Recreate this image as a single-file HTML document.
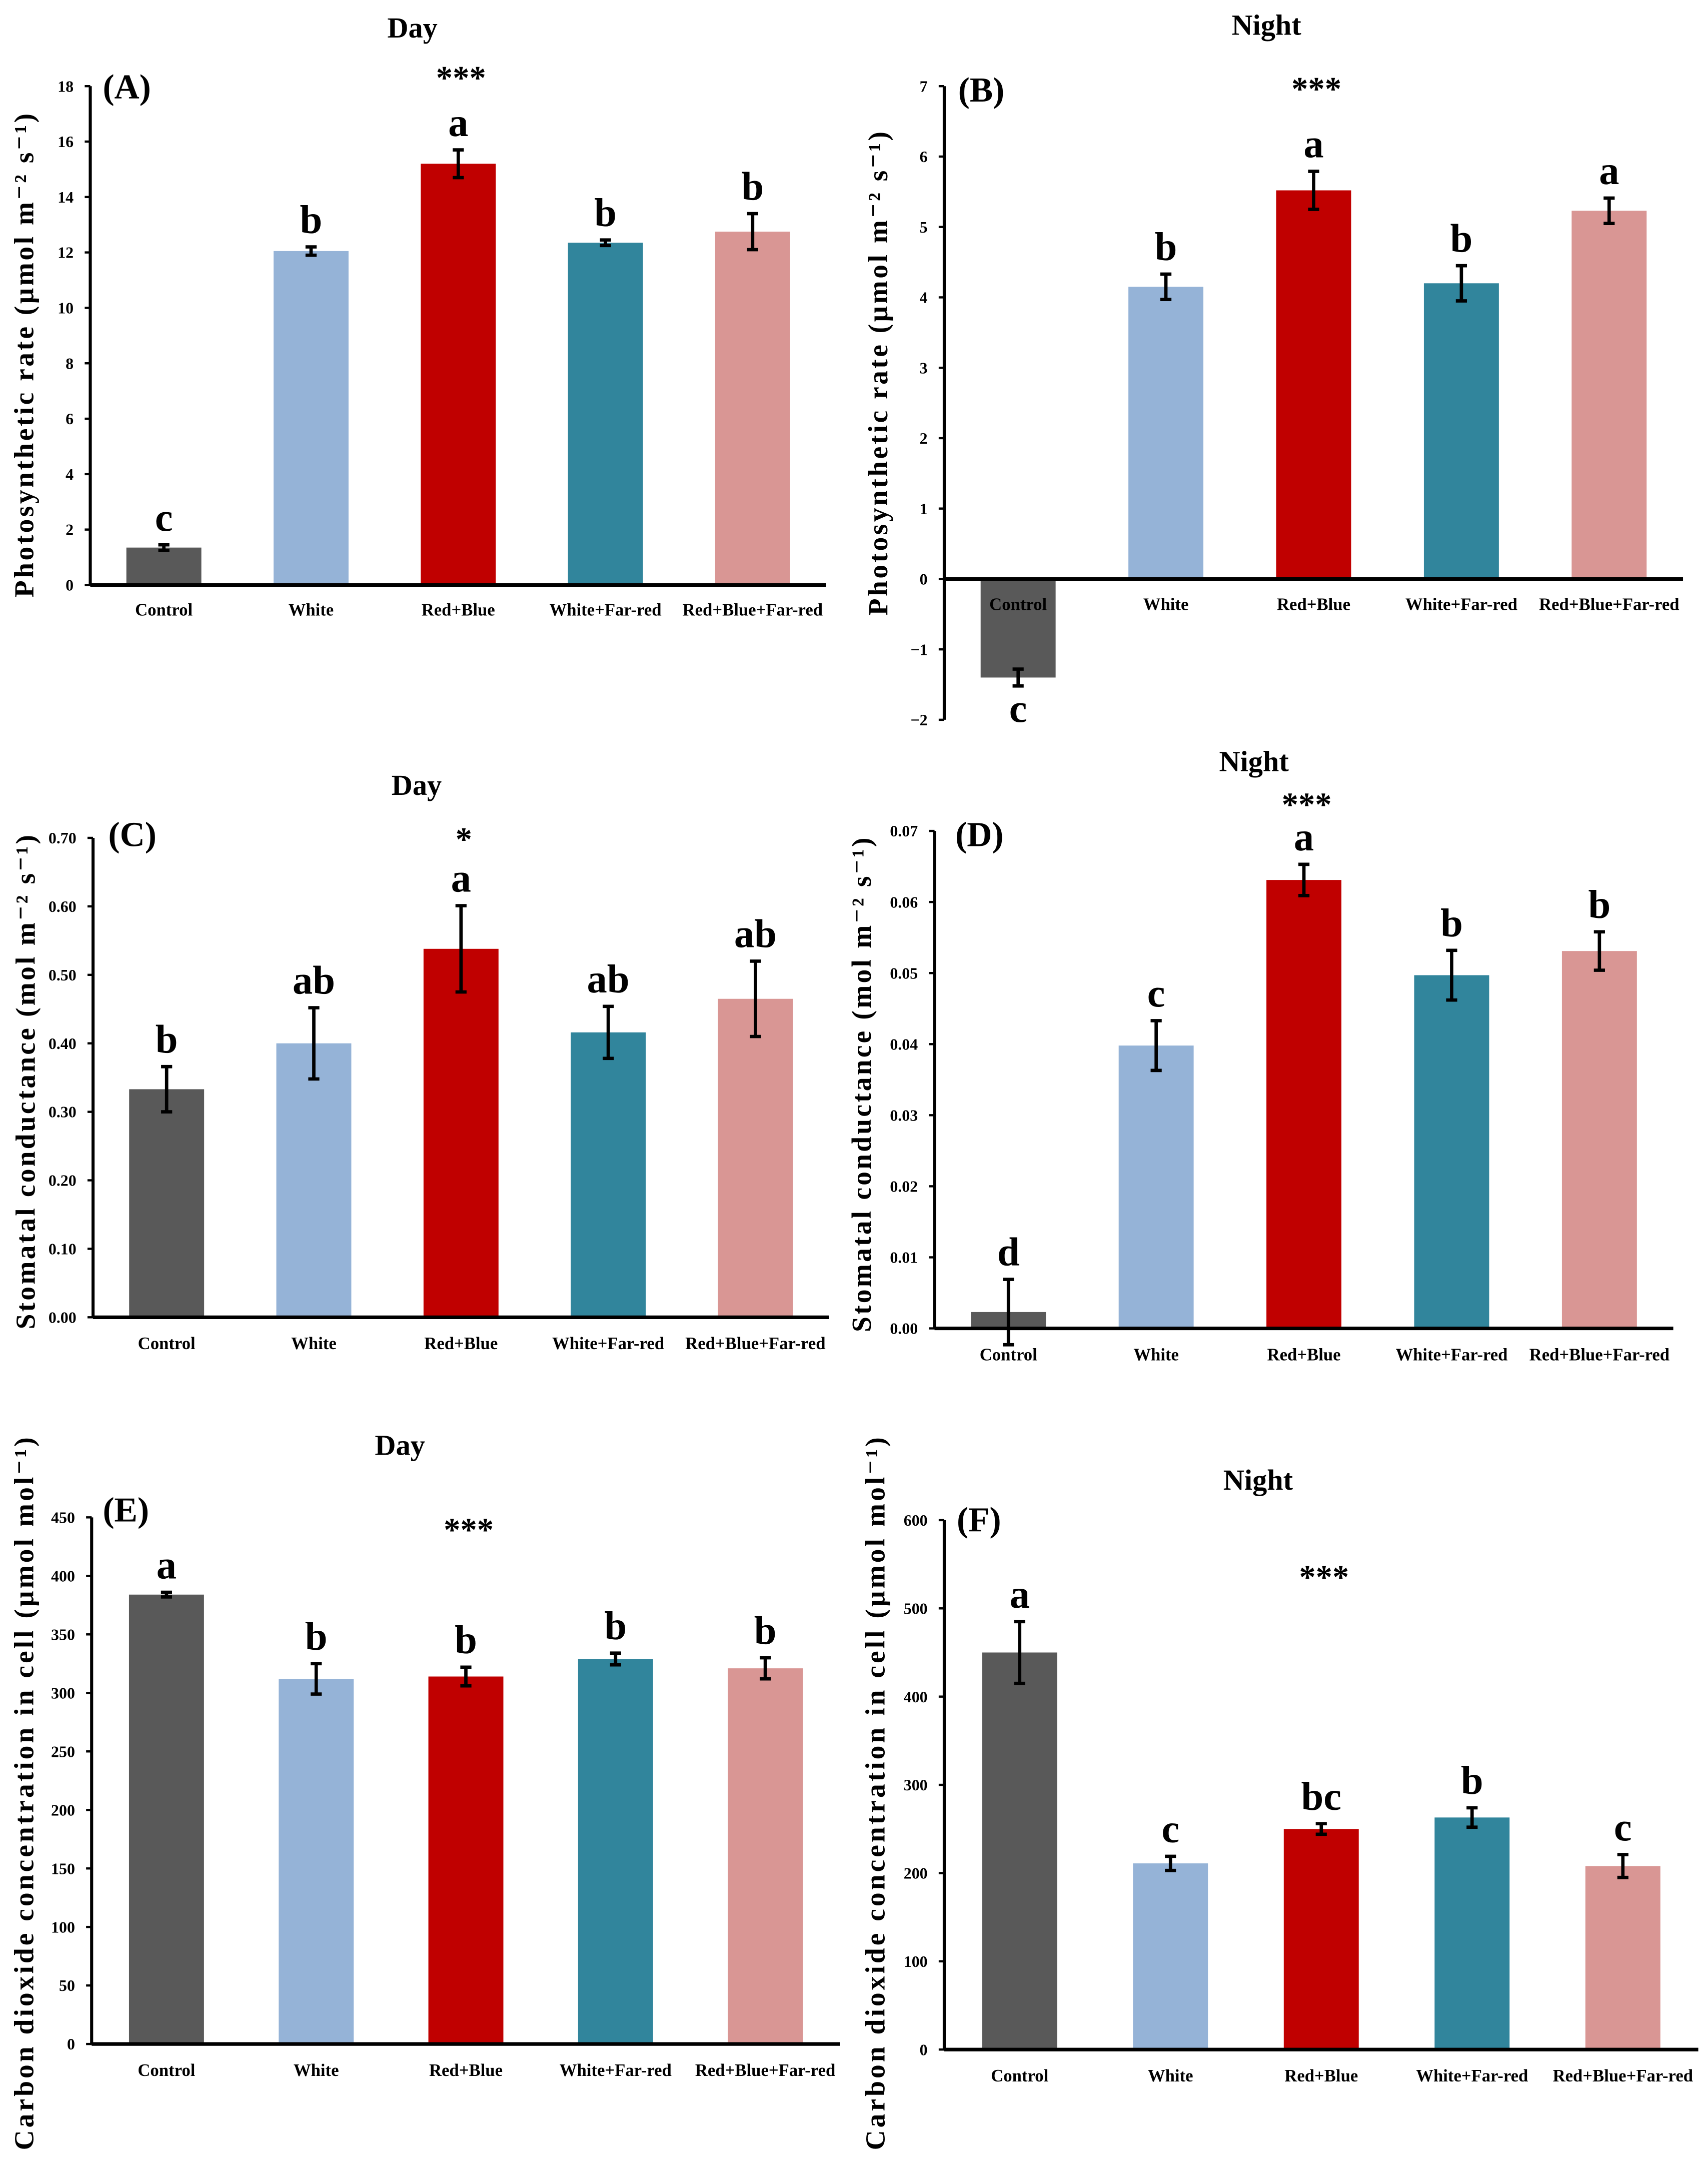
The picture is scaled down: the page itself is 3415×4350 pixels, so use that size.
<!DOCTYPE html>
<html><head><meta charset="utf-8">
<style>
html,body{margin:0;padding:0;background:#fff;}
svg{display:block;}
text{font-family:"Liberation Serif","DejaVu Serif",serif;font-weight:bold;fill:#000;}
</style></head>
<body>
<svg id="fig" width="3415" height="4350" viewBox="0 0 1230 1566" preserveAspectRatio="none" xmlns="http://www.w3.org/2000/svg"></svg>
<script>
const categories = ["Control","White","Red+Blue","White+Far-red","Red+Blue+Far-red"];
const barColors = ["#595959","#95B3D7","#C00000","#31859C","#D99694"];

const valuesA = [1.35,12.05,15.2,12.35,12.75];
const errorsA = [0.1,0.15,0.5,0.1,0.65];
const lettersA = ["c","b","a","b","b"];
const ticksA = [0,2,4,6,8,10,12,14,16,18];

const valuesB = [-1.4,4.15,5.52,4.2,5.23];
const errorsB = [0.12,0.18,0.27,0.25,0.18];
const lettersB = ["c","b","a","b","a"];
const ticksB = [-2,-1,0,1,2,3,4,5,6,7];

const valuesC = [0.333,0.400,0.538,0.416,0.465];
const errorsC = [0.033,0.052,0.063,0.038,0.055];
const lettersC = ["b","ab","a","ab","ab"];
const ticksC = [0,0.1,0.2,0.3,0.4,0.5,0.6,0.7];

const valuesD = [0.0023,0.0398,0.0631,0.0497,0.0531];
const errorsD = [0.0046,0.0035,0.0022,0.0035,0.0027];
const lettersD = ["d","c","a","b","b"];
const ticksD = [0,0.01,0.02,0.03,0.04,0.05,0.06,0.07];

const valuesE = [384,312,314,329,321];
const errorsE = [2,13,8,5,9];
const lettersE = ["a","b","b","b","b"];
const ticksE = [0,50,100,150,200,250,300,350,400,450];

const valuesF = [450,211,250,263,208];
const errorsF = [35,8,6,11,13];
const lettersF = ["a","c","bc","b","c"];
const ticksF = [0,100,200,300,400,500,600];

const NS="http://www.w3.org/2000/svg";
const svg=document.getElementById('fig');
function mk(tag,attrs,parent){const e=document.createElementNS(NS,tag);for(const k in attrs)e.setAttribute(k,attrs[k]);(parent||svg).appendChild(e);return e;}
function txt(s,attrs,parent){const e=mk('text',attrs,parent);e.textContent=s;return e;}

function chart(cfg){
  const g=mk('g',{});
  
  
  const y=v=>cfg.y0+(v-cfg.vmin)/(cfg.vmax-cfg.vmin)*(cfg.y1-cfg.y0);
  const step=(cfg.xr-cfg.ax)/5;
  const x=i=>cfg.ax+step*(i+0.5);
  const zy=y(Math.max(0,cfg.vmin));
  const bw=54;
  const t=txt(cfg.title,{x:cfg.tx,y:cfg.ty,'font-size':21,'text-anchor':'middle'},g);
  
  
  cfg.vals.forEach((v,i)=>{
    const top=Math.min(y(v),zy),h=Math.abs(y(v)-zy);
    const r=mk('rect',{x:x(i)-bw/2,y:top,width:bw,height:h,fill:barColors[i]},g);
    
    
    const e=cfg.errs[i];
    const ya=y(v+e),yb=y(v-e);
    const eg=mk('g',{stroke:'#000','stroke-width':2.4},g);
    
    
    mk('line',{x1:x(i),x2:x(i),y1:ya,y2:yb},eg);
    mk('line',{x1:x(i)-4,x2:x(i)+4,y1:ya,y2:ya},eg);
    mk('line',{x1:x(i)-4,x2:x(i)+4,y1:yb,y2:yb},eg);
    const ly=v<0?yb+26:Math.min(ya,yb)-10;
    const l=txt(cfg.letters[i],{x:x(i),y:ly,'font-size':29,'text-anchor':'middle'},g);
    
    
    const c=txt(categories[i],{x:x(i),y:cfg.catY,'font-size':12.5,'text-anchor':'middle'},g);
    
    
  });
  const ya=mk('line',{x1:cfg.ax,x2:cfg.ax,y1:y(cfg.vmax),y2:y(cfg.vmin),stroke:'#000','stroke-width':2.2},g);
  
  
  const xa=mk('line',{x1:cfg.ax,x2:cfg.xr,y1:zy,y2:zy,stroke:'#000','stroke-width':2.6},g);
  
  
  cfg.ticks.forEach(tv=>{
    mk('line',{x1:cfg.ax-4,x2:cfg.ax,y1:y(tv),y2:y(tv),stroke:'#000','stroke-width':1.6},g);
    const s=tv<0?'\u2212'+Math.abs(tv):tv.toFixed(cfg.dec);
    const tl=txt(s,{x:cfg.ax-12,y:y(tv)+4,'font-size':11.5,'text-anchor':'end'},g);
    
    
  });
  const pl=txt(cfg.panel,{x:cfg.px,y:cfg.py,'font-size':25},g);
  
  
  const st=txt(cfg.star,{x:x(2)+2,y:cfg.sy,'font-size':24,'text-anchor':'middle'},g);
  
  
  const yl=txt(cfg.ylabel,{x:0,y:0,'font-size':20,'text-anchor':'middle',transform:`translate(${cfg.ylx},${cfg.yly}) rotate(-90)`,'letter-spacing':cfg.ls},g);
  
  
}
const psLabel="Photosynthetic rate (\u03bcmol m\u207b\u00b2 s\u207b\u00b9)";
const scLabel="Stomatal conductance (mol m\u207b\u00b2 s\u207b\u00b9)";
const coLabel="Carbon dioxide concentration in cell (\u03bcmol mol\u207b\u00b9)";
chart({name:'chart-a',title:'Day',tx:297,ty:27,panel:'(A)',px:74,py:71,star:'***',sy:64,vals:valuesA,errs:errorsA,letters:lettersA,ticks:ticksA,dec:0,vmin:0,vmax:18,y0:421,y1:62,ax:65,xr:595,catY:443,ylabel:psLabel,ylx:24,yly:255,ls:1.6});
chart({name:'chart-b',title:'Night',tx:912,ty:25,panel:'(B)',px:690,py:73,star:'***',sy:72,vals:valuesB,errs:errorsB,letters:lettersB,ticks:ticksB,dec:0,vmin:-2,vmax:7,y0:518,y1:62,ax:680,xr:1212,catY:439,ylabel:psLabel,ylx:639,yly:268,ls:1.6});
chart({name:'chart-c',title:'Day',tx:300,ty:572,panel:'(C)',px:78,py:609,star:'*',sy:612,vals:valuesC,errs:errorsC,letters:lettersC,ticks:ticksC,dec:2,vmin:0,vmax:0.7,y0:948,y1:603,ax:67,xr:597,catY:971,ylabel:scLabel,ylx:25,yly:778,ls:1.5});
chart({name:'chart-d',title:'Night',tx:903,ty:555,panel:'(D)',px:688,py:609,star:'***',sy:587,vals:valuesD,errs:errorsD,letters:lettersD,ticks:ticksD,dec:2,vmin:0,vmax:0.07,y0:956,y1:598,ax:673,xr:1205,catY:979,ylabel:scLabel,ylx:627,yly:780,ls:1.5});
chart({name:'chart-e',title:'Day',tx:288,ty:1047,panel:'(E)',px:74,py:1095,star:'***',sy:1109,vals:valuesE,errs:errorsE,letters:lettersE,ticks:ticksE,dec:0,vmin:0,vmax:450,y0:1471,y1:1092,ax:66,xr:605,catY:1494,ylabel:coLabel,ylx:24,yly:1290,ls:1.8});
chart({name:'chart-f',title:'Night',tx:906,ty:1072,panel:'(F)',px:689,py:1102,star:'***',sy:1143,vals:valuesF,errs:errorsF,letters:lettersF,ticks:ticksF,dec:0,vmin:0,vmax:600,y0:1475,y1:1094,ax:680,xr:1223,catY:1498,ylabel:coLabel,ylx:637,yly:1290,ls:1.8});
</script>
</body></html>
